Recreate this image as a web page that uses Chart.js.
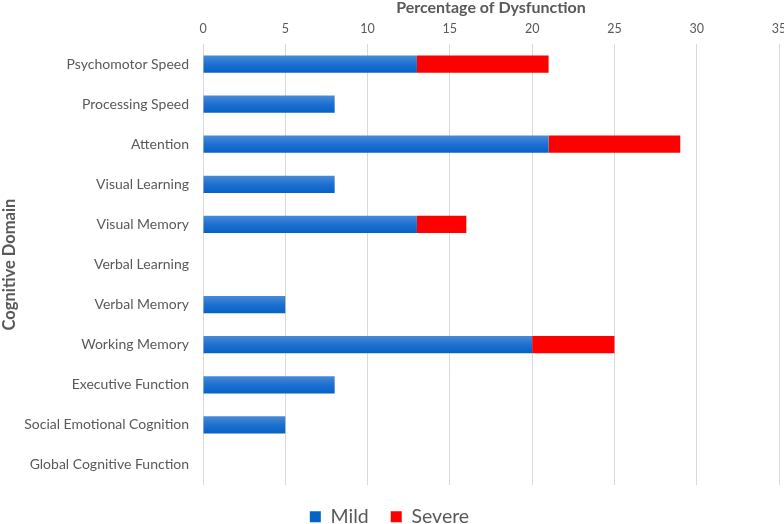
<!DOCTYPE html>
<html><head><meta charset="utf-8">
<script src="https://cdn.jsdelivr.net/npm/chart.js@4/dist/chart.umd.min.js"></script>
<style>html,body{margin:0;padding:0;background:#fff}#wrap{width:784px;height:524px}</style>
</head><body><div id="wrap"><canvas id="c" width="784" height="524"></canvas></div>
<script>
const categories = ["Psychomotor Speed","Processing Speed","Attention","Visual Learning","Visual Memory","Verbal Learning","Verbal Memory","Working Memory","Executive Function","Social Emotional Cognition","Global Cognitive Function"];
const mild = [13, 8, 21, 8, 13, 0, 5, 20, 8, 5, 0];
const severe = [8, 0, 8, 0, 3, 0, 0, 5, 0, 0, 0];
const xTicks = [0, 5, 10, 15, 20, 25, 30, 35];

const FONT = "Lato, 'Open Sans', sans-serif";
const GRAY = "#595959";

function blueGrad(ctx) {
  const chart = ctx.chart;
  const ys = chart.scales && chart.scales.y;
  if (!ys || ctx.dataIndex === undefined || !isFinite(ys.getPixelForValue(ctx.dataIndex))) return "#1f6fd0";
  const yc = ys.getPixelForValue(ctx.dataIndex);
  const g = chart.ctx.createLinearGradient(0, yc - 9, 0, yc + 9);
  g.addColorStop(0, "#4a8cd8");
  g.addColorStop(0.5, "#1e70d0");
  g.addColorStop(1, "#0461c6");
  return g;
}

new Chart(document.getElementById("c"), {
  type: "bar",
  data: {
    labels: categories,
    datasets: [
      { label: "Mild", data: mild, backgroundColor: blueGrad, borderWidth: 0 },
      { label: "Severe", data: severe, backgroundColor: "#ff0000", borderWidth: 0 }
    ]
  },
  options: {
    indexAxis: "y",
    responsive: false,
    animation: false,
    layout: { padding: { left: 0, right: 5, top: 0, bottom: -12.5 } },
    datasets: { bar: { barPercentage: 0.43, categoryPercentage: 1.0 } },
    scales: {
      x: {
        position: "top",
        stacked: true,
        min: 0, max: 35,
        afterBuildTicks: (s) => { s.ticks = xTicks.map(v => ({ value: v })); },
        afterFit: (s) => { s.height = 44; s.paddingLeft = 0; s.paddingRight = 0; },
        ticks: { color: GRAY, font: { family: FONT, size: 12.5 }, padding: 8 },
        grid: { color: "#d9d9d9", lineWidth: 1, drawTicks: false },
        border: { display: false },
        title: { display: true, text: "Percentage of Dysfunction", color: GRAY, font: { family: FONT, size: 16, weight: "bold" }, padding: { top: -1.5, bottom: 0 } }
      },
      y: {
        stacked: true,
        afterFit: (s) => { s.width = 203; },
        ticks: { color: GRAY, font: { family: FONT, size: 14 }, padding: 6 },
        grid: { display: false },
        border: { display: false },
        title: { display: true, text: "Cognitive Domain", color: GRAY, font: { family: FONT, size: 16.5, weight: "bold" }, padding: { top: 0, bottom: 0 } }
      }
    },
    plugins: {
      legend: {
        position: "bottom",
        labels: { color: GRAY, font: { family: FONT, size: 19.5 }, boxWidth: 11, boxHeight: 11, padding: 22 }
      },
      tooltip: { enabled: false }
    }
  }
});
</script></body></html>
